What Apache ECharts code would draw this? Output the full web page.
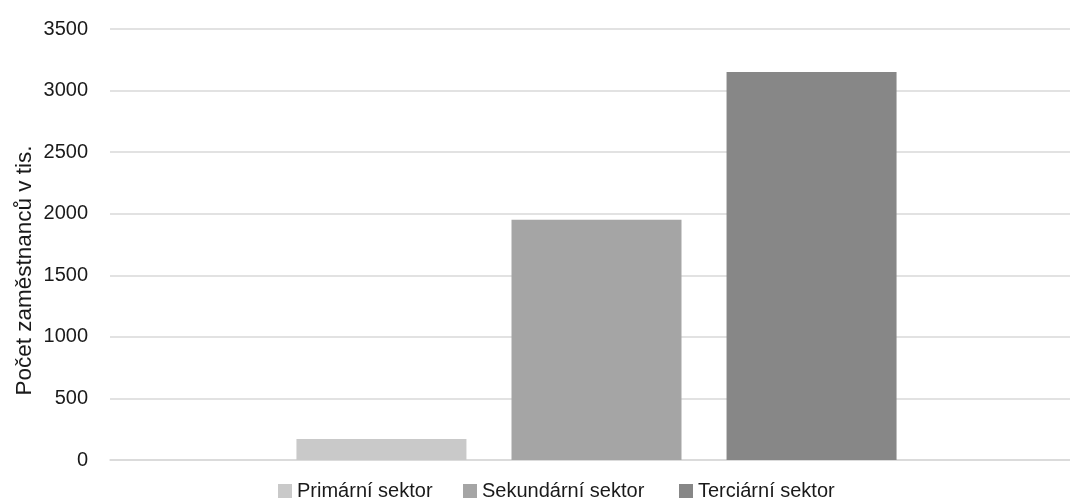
<!DOCTYPE html>
<html>
<head>
<meta charset="utf-8">
<script src="https://cdn.jsdelivr.net/npm/echarts@6/dist/echarts.min.js"></script>
<style>
  html, body { margin: 0; padding: 0; background: #ffffff; }
  #chart { width: 1070px; height: 503px; }
</style>
</head>
<body>
<div id="chart"></div>
<script>
// Employees by economic sector (thousands)
const seriesNames = ['Primární sektor', 'Sekundární sektor', 'Terciární sektor'];
const seriesValues = [170, 1950, 3150];
const seriesColors = ['#c9c9c9', '#a5a5a5', '#878787'];
const categories = [''];
const yAxisTitle = 'Počet zaměstnanců v tis.';

const FONT = "'Liberation Sans', Arial, sans-serif";
const TEXT = '#1a1a1a';

const chart = echarts.init(document.getElementById('chart'), null, { renderer: 'canvas' });

const series = seriesNames.map((name, i) => ({
  name: name,
  type: 'bar',
  data: [seriesValues[i]],
  barWidth: 170,
  barGap: '26.5%',
  itemStyle: { color: seriesColors[i] },
  emphasis: { disabled: true }
}));

// one legend block per sector so each entry keeps its own position
const legendLefts = [278, 463, 679];
const legends = seriesNames.map((name, i) => ({
  data: [name],
  left: legendLefts[i],
  top: 481,
  padding: 0,
  icon: 'rect',
  itemWidth: 14,
  itemHeight: 14,
  textStyle: { fontFamily: FONT, fontSize: 20, color: TEXT },
  selectedMode: false
}));

chart.setOption({
  animation: false,
  backgroundColor: '#ffffff',
  textStyle: { fontFamily: FONT, color: TEXT },
  grid: { left: 110, right: -13, top: 29, bottom: 43, containLabel: false, outerBoundsMode: 'none' },
  legend: legends,
  xAxis: {
    type: 'category',
    data: categories,
    axisLine: { show: true, lineStyle: { color: '#d9d9d9', width: 1.5 } },
    axisTick: { show: false },
    axisLabel: { show: false },
    splitLine: { show: false }
  },
  yAxis: {
    type: 'value',
    min: 0,
    max: 3500,
    interval: 500,
    name: yAxisTitle,
    nameLocation: 'middle',
    nameGap: 74,
    nameRotate: 90,
    nameMoveOverlap: false,
    nameTextStyle: { fontFamily: FONT, fontSize: 22.5, color: TEXT, padding: [0, 52, 0, 0] },
    axisLine: { show: false },
    axisTick: { show: false },
    axisLabel: { fontFamily: FONT, fontSize: 20, color: TEXT, margin: 22, formatter: v => String(v) },
    splitLine: { show: true, lineStyle: { color: '#d9d9d9', width: 1.5 } }
  },
  series: series
});
</script>
</body>
</html>
